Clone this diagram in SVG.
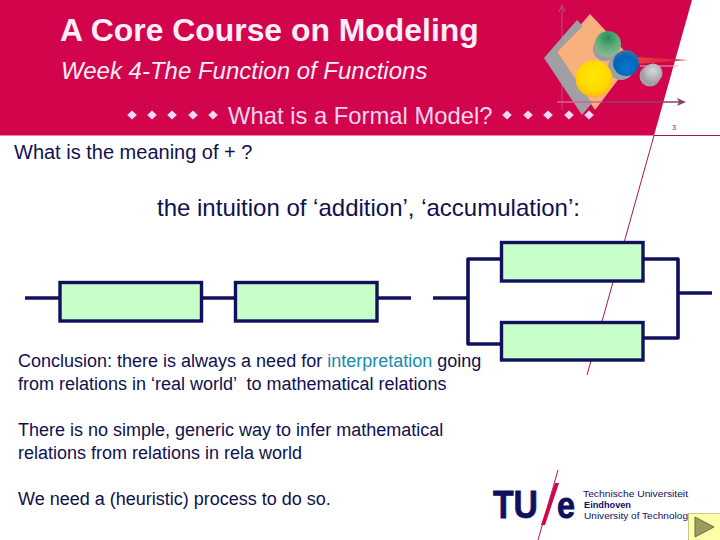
<svg xmlns="http://www.w3.org/2000/svg" width="720" height="540" viewBox="0 0 720 540">
<style>
text{font-family:"Liberation Sans",Arial,sans-serif}
.body{font-size:18px;fill:#10104f}
.box{fill:#c8ffc8;stroke:#10105f;stroke-width:3.4}
.wire{fill:none;stroke:#10105f;stroke-width:3.6;stroke-linejoin:round}
.dia{fill:#f0d8f4}
.head{fill:#fdeef8}
</style>
<defs>
<radialGradient id="gG" cx=".5" cy=".25" r=".75"><stop offset="0" stop-color="#1f8f5a"/><stop offset=".5" stop-color="#5faa78"/><stop offset="1" stop-color="#8fb898"/></radialGradient>
<radialGradient id="gB" cx=".5" cy=".7" r=".65"><stop offset="0" stop-color="#0a78d0"/><stop offset=".7" stop-color="#0066b8"/><stop offset="1" stop-color="#3a6fa8"/></radialGradient>
<radialGradient id="gY" cx=".5" cy=".4" r=".65"><stop offset="0" stop-color="#ffe800"/><stop offset=".65" stop-color="#ffd800"/><stop offset="1" stop-color="#ffa820"/></radialGradient>
<radialGradient id="gS" cx=".5" cy=".4" r=".65"><stop offset="0" stop-color="#d8d8d8"/><stop offset="1" stop-color="#a0a0a4"/></radialGradient>
<linearGradient id="gR" x1="0" x2="1"><stop offset="0" stop-color="#e84040"/><stop offset="1" stop-color="#d8143c"/></linearGradient>
<polygon id="d" points="0,-4.5 4.8,0 0,4.5 -4.8,0"/>
</defs>
<rect width="720" height="540" fill="#fff"/>
<g id="header">
<polygon points="0,0 692,0 654,135.5 0,135.5" fill="#d2044c"/>
<path d="M654,135.500H720M654,135.500L587,375M558,470L538,540" fill="none" stroke="#a8145c" stroke-width="1"/>
<text x="60" y="41" font-size="31.900" font-weight="700" class="head">A Core Course on Modeling</text>
<text x="61" y="79" font-size="24" font-style="italic" class="head">Week 4-The Function of Functions</text>
<text x="228" y="124" font-size="23.800" fill="#f4d4ee">What is a Formal Model?</text>
<g class="dia">
<use href="#d" x="132" y="115"/><use href="#d" x="152" y="115"/><use href="#d" x="172" y="115"/><use href="#d" x="193" y="115"/><use href="#d" x="213" y="115"/>
<use href="#d" x="507" y="115"/><use href="#d" x="528" y="115"/><use href="#d" x="548" y="115"/><use href="#d" x="569" y="115"/><use href="#d" x="589" y="115"/>
</g>
<text x="672" y="130" font-size="7.500" fill="#a8145c">3</text>
</g>
<g id="emblem">
<path d="M562,110V7M559,12L562,5L565,12" fill="none" stroke="#c04078" stroke-width="1.200"/>
<polygon points="590,14 557,52 595,110 633,60" fill="#f8b07c"/>
<polygon points="577,20 544,58 582,115 592,103 557,52 583,26" fill="#a0a0a4"/>
<path d="M557,102H602" stroke="#d86090" stroke-width="1.400"/>
<path d="M602,102H680" stroke="#884468" stroke-width="1.600"/>
<polygon points="686,102 677,98 679,102 677,106" fill="#884468"/>
<polygon points="636,57 688,60 636,64" fill="url(#gR)"/>
<path d="M640,66H678" stroke="#f0a0b0" stroke-width="1"/>
<circle cx="605" cy="49" r="12" fill="#9c9ca0"/>
<circle cx="608" cy="44" r="13" fill="url(#gG)"/>
<circle cx="621" cy="67" r="13" fill="#a0a0a4"/>
<circle cx="626" cy="63" r="13" fill="url(#gB)"/>
<circle cx="650" cy="76" r="10.500" fill="#a0a0a4"/>
<circle cx="653" cy="73" r="9.500" fill="url(#gS)"/>
<circle cx="594" cy="79" r="18.500" fill="url(#gY)"/>
</g>
<text x="14" y="159" font-size="20" fill="#10104f">What is the meaning of + ?</text>
<text x="157" y="216" font-size="24" fill="#10104f">the intuition of ‘addition’, ‘accumulation’:</text>
<g id="connectors">
<path class="wire" d="M25,298H60M201,298H235M378,298H411"/>
<path class="wire" d="M433,298H468M501,259H468V344H501M644,259H678V338H644M678,293H712"/>
</g>
<g id="box-a"><rect class="box" x="60" y="282.500" width="141.500" height="38.500"/></g>
<g id="box-b"><rect class="box" x="235.500" y="282.500" width="141.500" height="38.500"/></g>
<g id="box-c"><rect class="box" x="501.500" y="242.500" width="141.500" height="38.500"/></g>
<g id="box-d"><rect class="box" x="501.500" y="322.500" width="141.500" height="37.500"/></g>
<text x="18" y="367" class="body">Conclusion: there is always a need for <tspan fill="#1a8ab0">interpretation</tspan> going</text>
<text x="18" y="390" class="body" xml:space="preserve">from relations in ‘real world’  to mathematical relations</text>
<text x="18" y="436" class="body">There is no simple, generic way to infer mathematical</text>
<text x="18" y="459" class="body">relations from relations in rela world</text>
<text x="18" y="505" class="body">We need a (heuristic) process to do so.</text>
<g id="logo">
<text x="493" y="518" font-size="39" font-weight="700" fill="#10105f" stroke="#10105f" stroke-width=".8" textLength="45" lengthAdjust="spacingAndGlyphs">TU</text>
<polygon points="555,483 559,483 545,525 541,525" fill="#d2044c"/>
<text x="557" y="518" font-size="36" font-weight="700" fill="#10105f" stroke="#10105f" stroke-width=".8" textLength="18" lengthAdjust="spacingAndGlyphs">e</text>
<text x="583" y="497" font-size="9" fill="#10105f" textLength="105" lengthAdjust="spacingAndGlyphs">Technische Universiteit</text>
<text x="584" y="508" font-size="9" font-weight="700" fill="#10105f" textLength="47" lengthAdjust="spacingAndGlyphs">Eindhoven</text>
<text x="584" y="519" font-size="9" fill="#10105f" textLength="104" lengthAdjust="spacingAndGlyphs">University of Technolog</text>
</g>
<g id="next-button">
<rect x="688.500" y="513.500" width="32" height="27" fill="#ffffa8" stroke="#c8c88a"/>
<polygon points="695,517 695,537 714,527" fill="#9c9c60" stroke="#6c6c48" stroke-width="1"/>
</g>
</svg>
